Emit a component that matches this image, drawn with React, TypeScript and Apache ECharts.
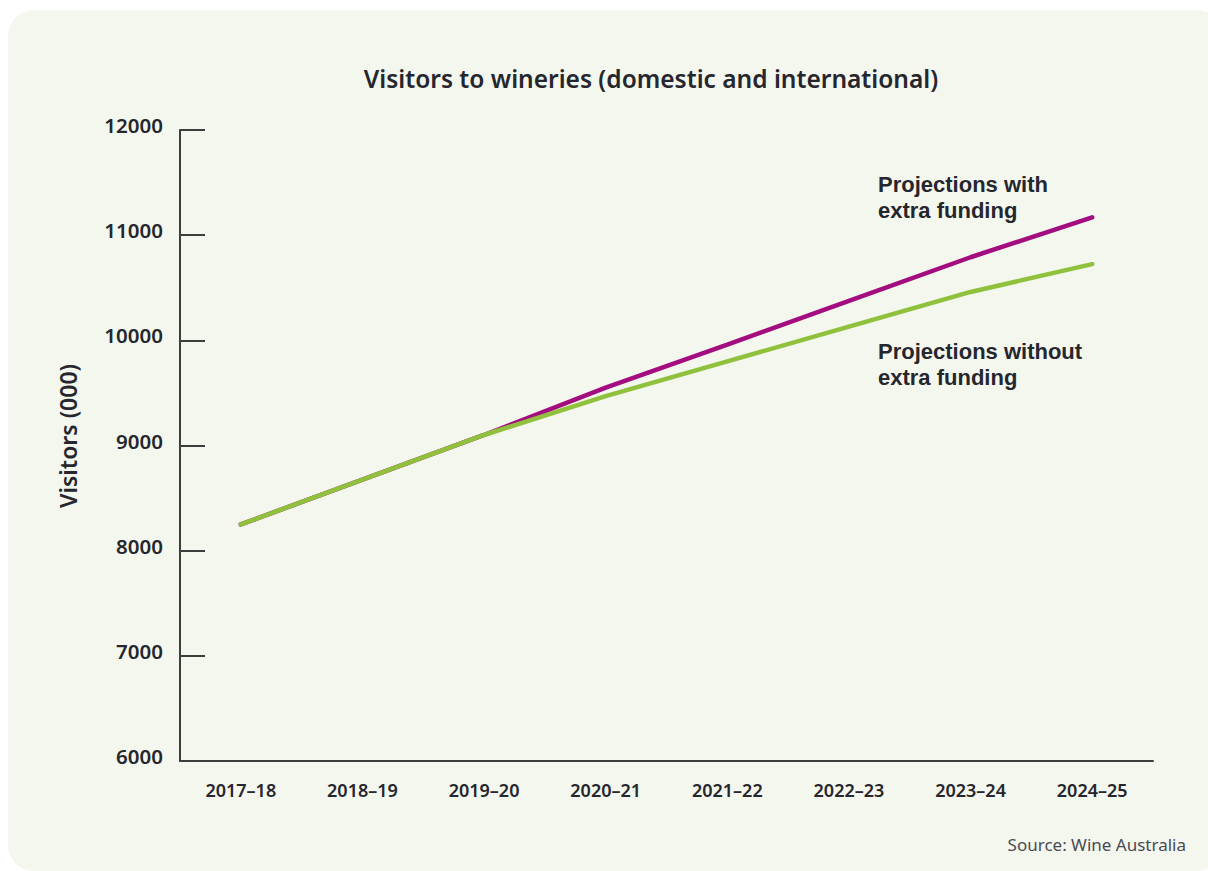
import React, { useEffect, useRef } from "react";
import * as echarts from "echarts";

const categories = ["2017–18", "2018–19", "2019–20", "2020–21", "2021–22", "2022–23", "2023–24", "2024–25"];
const withFunding = [8250, 8675, 9100, 9550, 9960, 10375, 10790, 11170];
const withoutFunding = [8250, 8675, 9100, 9470, 9800, 10130, 10460, 10725];
const yTicks = [6000, 7000, 8000, 9000, 10000, 11000, 12000];

const title = "Visitors to wineries (domestic and international)";
const yName = "Visitors (000)";
const source = "Source: Wine Australia";
const labelWith = ["Projections with", "extra funding"];
const labelWithout = ["Projections without", "extra funding"];

const FONT = "'Noto Sans', 'Open Sans', sans-serif";
const ANNOT_FONT = "'Liberation Sans', Arial, sans-serif";
const DARK = "#26262e";

function annotationLines(lines: string[], x: number, y0: number) {
  return lines.map((t, i) => ({
    type: "text",
    x,
    y: y0 + i * 26,
    style: {
      text: t,
      fontFamily: ANNOT_FONT,
      fontSize: 22,
      fontWeight: "bold",
      fill: DARK,
      textAlign: "left",
      textVerticalAlign: "middle",
    },
  }));
}

export default function App() {
  const ref = useRef<HTMLDivElement>(null);
  useEffect(() => {
    if (!ref.current) return;
    const chart = echarts.init(ref.current, undefined, { renderer: "svg" });
    chart.setOption({
      animation: false,
      backgroundColor: "#ffffff",
      textStyle: { fontFamily: FONT },
      graphic: [
        {
          type: "rect",
          z: -10,
          shape: { x: 8, y: 10, width: 1215, height: 861, r: 26 },
          style: { fill: "#f4f7ed" },
        },
        {
          type: "text",
          x: 651,
          y: 78,
          style: {
            text: title,
            fontFamily: FONT,
            fontSize: 24.5,
            fontWeight: 600,
            fill: DARK,
            textAlign: "center",
            textVerticalAlign: "middle",
          },
        },
        {
          type: "text",
          x: 68,
          y: 436,
          rotation: Math.PI / 2,
          style: {
            text: yName,
            fontFamily: FONT,
            fontSize: 23,
            fontWeight: 600,
            fill: DARK,
            textAlign: "center",
            textVerticalAlign: "middle",
          },
        },
        ...annotationLines(labelWith, 878, 184),
        ...annotationLines(labelWithout, 878, 351),
        {
          type: "text",
          x: 1186,
          y: 844,
          style: {
            text: source,
            fontFamily: FONT,
            fontSize: 17,
            fill: "#4a4a55",
            textAlign: "right",
            textVerticalAlign: "middle",
          },
        },
      ],
      grid: { left: 180, right: 55, top: 130, bottom: 110, containLabel: false },
      xAxis: {
        type: "category",
        data: categories,
        boundaryGap: true,
        axisLine: { lineStyle: { color: "#3d3d3d", width: 2 } },
        axisTick: { inside: true, length: 17, alignWithLabel: true, lineStyle: { color: "#3d3d3d", width: 2 } },
        axisLabel: { margin: 20, fontSize: 18, fontWeight: 600, color: DARK, fontFamily: FONT },
        splitLine: { show: false },
      },
      yAxis: {
        type: "value",
        min: 6000,
        max: 12000,
        interval: 1000,
        axisLine: { show: true, lineStyle: { color: "#3d3d3d", width: 2 } },
        axisTick: { show: true, inside: true, length: 25, lineStyle: { color: "#3d3d3d", width: 2 } },
        axisLabel: {
          margin: 17,
          fontSize: 20.5,
          fontWeight: 600,
          color: DARK,
          fontFamily: FONT,
          verticalAlign: "bottom",
          lineHeight: 10,
          customValues: yTicks,
          formatter: (v: number) => String(v),
        },
        splitLine: { show: false },
      },
      series: [
        {
          type: "line",
          data: withFunding,
          symbol: "none",
          lineStyle: { color: "#a30d80", width: 4.5, cap: "round" },
          z: 2,
        },
        {
          type: "line",
          data: withoutFunding,
          symbol: "none",
          lineStyle: { color: "#8fc13c", width: 4.5, cap: "round" },
          z: 3,
        },
      ],
    });
    return () => chart.dispose();
  }, []);
  return (
    <div style={{ position: "fixed", left: 0, top: 0, width: 1208, height: 871 }}>
      <div ref={ref} style={{ width: 1208, height: 871 }} />
    </div>
  );
}
